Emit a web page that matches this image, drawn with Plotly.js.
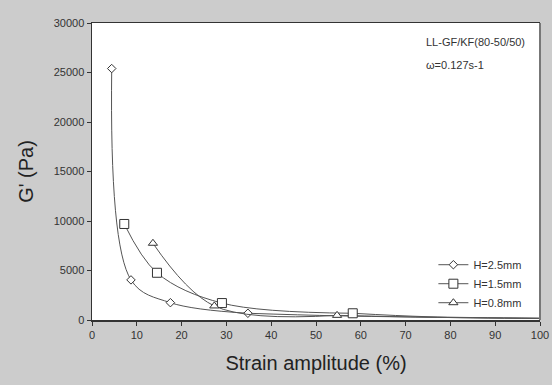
<!DOCTYPE html>
<html>
<head>
<meta charset="utf-8">
<script src="https://cdn.plot.ly/plotly-3.0.1.min.js"></script>
<style>html,body{margin:0;padding:0;background:#cccccc;}#chart{width:552px;height:385px;}</style>
</head>
<body>
<div id="chart"></div>
<script>
// Data
const seriesNames = ["H=2.5mm", "H=1.5mm", "H=0.8mm"];
const strainH25 = [4.4, 8.7, 17.5, 34.8];
const gH25 = [25400, 4050, 1750, 680];
const strainH15 = [7.2, 14.5, 29.0, 58.2];
const gH15 = [9700, 4770, 1710, 680];
const strainH08 = [13.6, 27.3, 54.7];
const gH08 = [7750, 1420, 470];
const tailXH25 = [34.8, 55, 100];
const tailYH25 = [680, 420, 150];
const tailXH15 = [58.2, 75, 100];
const tailYH15 = [680, 330, 200];
const tailXH08 = [54.7, 75, 100];
const tailYH08 = [470, 280, 150];
const xTicks = [0, 10, 20, 30, 40, 50, 60, 70, 80, 90, 100];
const yTicks = [0, 5000, 10000, 15000, 20000, 25000, 30000];
const noteLines = ["LL-GF/KF(80-50/50)", "ω=0.127s-1"];

const lineCol = "#555555";
const mkLine = {color: "#333333", width: 1};
function main(x, y, name, symbol, size) {
  return {x: x, y: y, name: name, type: "scatter", mode: "lines+markers",
    line: {color: lineCol, width: 1, shape: "spline", smoothing: 1},
    marker: {symbol: symbol, size: size, color: "#ffffff", line: mkLine}};
}
function tail(x, y) {
  return {x: x, y: y, type: "scatter", mode: "lines", showlegend: false, hoverinfo: "skip",
    line: {color: lineCol, width: 1, shape: "spline", smoothing: 1}};
}
const data = [
  tail(tailXH25, tailYH25), tail(tailXH15, tailYH15), tail(tailXH08, tailYH08),
  main(strainH25, gH25, seriesNames[0], "diamond", 6.5),
  main(strainH15, gH15, seriesNames[1], "square", 9),
  main(strainH08, gH08, seriesNames[2], "triangle-up", 8)
];

const font = "Liberation Sans, Arial, sans-serif";
const layout = {
  width: 552, height: 385,
  paper_bgcolor: "#cccccc", plot_bgcolor: "#ffffff",
  margin: {l: 92, r: 12, t: 23, b: 65},
  font: {family: font, color: "#333333", size: 11},
  showlegend: true,
  legend: {x: 0.762, y: 0.235, xanchor: "left", yanchor: "top", bgcolor: "rgba(0,0,0,0)",
    font: {size: 11, color: "#333333"}, tracegroupgap: 0, itemwidth: 30},
  xaxis: {range: [0, 100], tickvals: xTicks, ticktext: xTicks.map(String),
    showgrid: false, zeroline: false, showline: true, linecolor: "#333333", linewidth: 1.5,
    mirror: true, ticks: "outside", ticklen: 4, tickcolor: "#333333",
    tickfont: {size: 11, color: "#333333"},
    title: {text: "Strain amplitude (%)", font: {size: 20, color: "#222222"}, standoff: 16}},
  yaxis: {range: [0, 30000], tickvals: yTicks, ticktext: yTicks.map(String),
    showgrid: false, zeroline: false, showline: true, linecolor: "#333333", linewidth: 1.5,
    ticks: "outside", ticklen: 4, tickcolor: "#333333",
    tickfont: {size: 11, color: "#333333"},
    title: {text: "G' (Pa)", font: {size: 20, color: "#222222"}, standoff: 14}},
  shapes: [{type: "line", xref: "paper", yref: "paper", x0: 1, x1: 1, y0: 0, y1: 1,
    line: {color: "#777777", width: 2}}],
  annotations: [
    {xref: "paper", yref: "paper", x: 0.74, y: 0.935, xanchor: "left", yanchor: "middle",
     text: noteLines[0], showarrow: false, font: {size: 11, color: "#333333"}},
    {xref: "paper", yref: "paper", x: 0.74, y: 0.86, xanchor: "left", yanchor: "middle",
     text: noteLines[1], showarrow: false, font: {size: 11, color: "#333333"}}
  ]
};
Plotly.newPlot("chart", data, layout, {displayModeBar: false, staticPlot: true});
</script>
</body>
</html>
